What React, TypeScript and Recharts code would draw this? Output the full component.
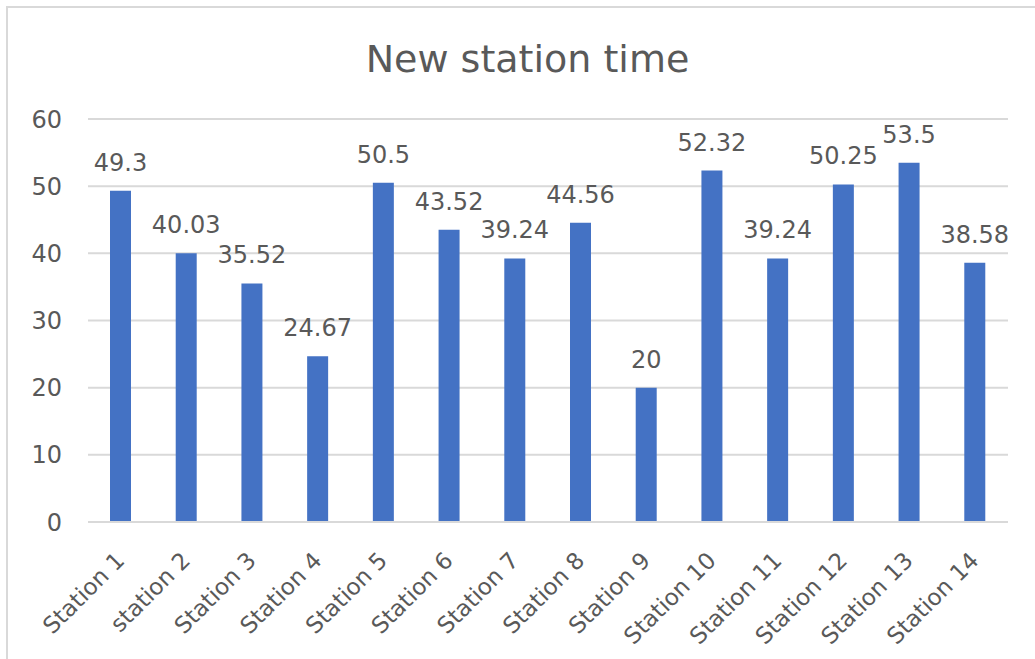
import { BarChart, Bar, XAxis, YAxis, CartesianGrid, LabelList } from 'recharts';

const stations = [
  'Station 1', 'station 2', 'Station 3', 'Station 4', 'Station 5', 'Station 6', 'Station 7',
  'Station 8', 'Station 9', 'Station 10', 'Station 11', 'Station 12', 'Station 13', 'Station 14',
];
const times = [49.3, 40.03, 35.52, 24.67, 50.5, 43.52, 39.24, 44.56, 20, 52.32, 39.24, 50.25, 53.5, 38.58];
const yTicks = [0, 10, 20, 30, 40, 50, 60];

const TEXT = '#595959';
const GRID = '#d9d9d9';
const FONT = '"DejaVu Sans", sans-serif';

const data = stations.map((name, i) => ({ name, time: times[i] }));

// rotated category label, ends just right of the tick
function StationTick(props: any) {
  const { x, y, payload } = props;
  return (
    <g transform={`translate(${x + 5},${y + 32})`}>
      <text
        textAnchor="end"
        transform="rotate(-45)"
        fill={TEXT}
        fontSize={23}
        fontFamily={FONT}
      >
        {payload.value}
      </text>
    </g>
  );
}

export default function App() {
  return (
    <div style={{ position: 'absolute', left: 0, top: 0, width: 1035, height: 659, background: '#fff', overflow: 'hidden' }}>
      <div
        style={{
          position: 'absolute', left: 6, top: 6, width: 1040, height: 700,
          borderLeft: `2px solid ${GRID}`, borderTop: `2px solid ${GRID}`,
        }}
      />
      <div
        style={{
          position: 'absolute', left: 0, width: 1055, top: 35, textAlign: 'center',
          fontFamily: FONT, fontSize: 38, color: TEXT, lineHeight: '48px',
        }}
      >
        New station time
      </div>
      <div style={{ position: 'absolute', left: 0, top: 0 }}>
        <BarChart
          width={1035}
          height={659}
          data={data}
          margin={{ top: 119, right: 27, bottom: 27, left: 28 }}
          barCategoryGap={0}
        >
          <CartesianGrid vertical={false} stroke={GRID} strokeWidth={2} />
          <XAxis
            dataKey="name"
            interval={0}
            height={110}
            tickLine={false}
            axisLine={{ stroke: GRID, strokeWidth: 2 }}
            tick={<StationTick />}
          />
          <YAxis
            domain={[0, 60]}
            ticks={yTicks}
            width={60}
            tickLine={false}
            axisLine={false}
            tickMargin={20}
            tick={{ fill: TEXT, fontSize: 24, fontFamily: FONT }}
          />
          <Bar dataKey="time" fill="#4472C4" barSize={21} isAnimationActive={false}>
            <LabelList
              dataKey="time"
              position="top"
              offset={20}
              fill={TEXT}
              fontSize={24}
              fontFamily={FONT}
            />
          </Bar>
        </BarChart>
      </div>
    </div>
  );
}
